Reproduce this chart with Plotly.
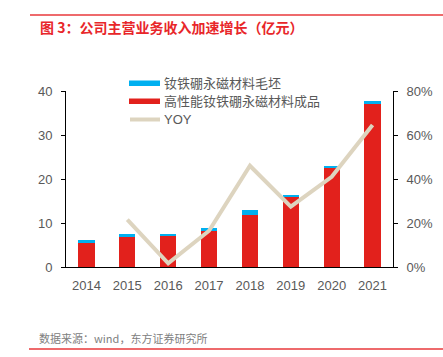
import plotly.graph_objects as go

years = ["2014", "2015", "2016", "2017", "2018", "2019", "2020", "2021"]
finished = [5.5, 6.85, 7.2, 8.2, 11.9, 16.1, 22.6, 37.0]      # 高性能钕铁硼永磁材料成品
blank = [0.6, 0.65, 0.4, 0.6, 1.0, 0.3, 0.4, 0.7]           # 钕铁硼永磁材料毛坯
yoy = [None, 0.215, 0.017, 0.165, 0.46, 0.274, 0.41, 0.645]

RED = "#E2211C"
BLUE = "#00B0F0"
BEIGE = "#DDD4BF"
GRAY = "#595959"
FONT = "Liberation Sans, Noto Sans CJK SC, sans-serif"

fig = go.Figure()
fig.add_trace(go.Bar(x=years, y=finished, name="高性能钕铁硼永磁材料成品",
                     marker=dict(color=RED, line=dict(width=0)), width=0.4, showlegend=False))
fig.add_trace(go.Bar(x=years, y=blank, name="钕铁硼永磁材料毛坯",
                     marker=dict(color=BLUE, line=dict(width=0)), width=0.4, showlegend=False))
fig.add_trace(go.Scatter(x=years, y=yoy, name="YOY", yaxis="y2", mode="lines",
                         line=dict(color=BEIGE, width=4), showlegend=False))

W, H = 443, 357
L, R, T, B = 66, 50, 91, 90
pw, ph = W - L - R, H - T - B

def px(x):
    return (x - L) / pw

def py(y):
    return (H - B - y) / ph

shapes = [
    dict(type="line", xref="paper", yref="paper", x0=px(30), x1=px(443), y0=py(15), y1=py(15),
         line=dict(color="#E8383B", width=1.5)),
    dict(type="line", xref="paper", yref="paper", x0=px(29), x1=px(443), y0=py(349), y1=py(349),
         line=dict(color="#E8383B", width=1.5)),
    dict(type="rect", xref="paper", yref="paper", x0=px(129), x1=px(160), y0=py(86), y1=py(80.5),
         fillcolor=BLUE, line=dict(width=0)),
    dict(type="rect", xref="paper", yref="paper", x0=px(129), x1=px(160), y0=py(104), y1=py(98.5),
         fillcolor=RED, line=dict(width=0)),
    dict(type="line", xref="paper", yref="paper", x0=px(130), x1=px(160), y0=py(119.5), y1=py(119.5),
         line=dict(color=BEIGE, width=4)),
]

legend_names = ["钕铁硼永磁材料毛坯", "高性能钕铁硼永磁材料成品", "YOY"]
legend_y = [83.5, 101.5, 119.5]
annotations = [
    dict(text=n, xref="paper", yref="paper", x=px(162), y=py(yy), xanchor="left", yanchor="middle",
         showarrow=False, font=dict(size=13, color=GRAY, family=FONT))
    for n, yy in zip(legend_names, legend_y)
]
annotations.append(dict(text="<b>图 3：公司主营业务收入加速增长（亿元）</b>", xref="paper", yref="paper",
                        x=px(38), y=py(27), xanchor="left", yanchor="middle", showarrow=False,
                        font=dict(size=14, color="#E8262A", family="Noto Sans CJK SC, sans-serif")))
annotations.append(dict(text="数据来源：wind，东方证券研究所", xref="paper", yref="paper",
                        x=px(37), y=py(338), xanchor="left", yanchor="middle", showarrow=False,
                        font=dict(size=11, color="#808080", family="Noto Sans CJK SC, sans-serif")))

fig.update_layout(
    width=W, height=H, margin=dict(l=L, r=R, t=T, b=B, autoexpand=False),
    paper_bgcolor="white", plot_bgcolor="white",
    barmode="stack", bargap=0.6,
    font=dict(family=FONT, size=13, color=GRAY),
    xaxis=dict(type="category", range=[-0.5, 7.5], showline=True, linecolor="#000000", linewidth=1,
               ticks="", showgrid=False, tickfont=dict(size=13, color=GRAY), ticklabelstandoff=6),
    yaxis=dict(range=[0, 40], dtick=10, showline=True, linecolor="#000000", linewidth=1,
               ticks="outside", ticklen=4, tickcolor="#000000", showgrid=False, zeroline=False,
               tickfont=dict(size=13, color=GRAY), ticklabelstandoff=6),
    yaxis2=dict(range=[0, 0.8], dtick=0.2, tickformat=".0%", overlaying="y", side="right",
                showline=True, linecolor="#000000", linewidth=1, ticks="outside", ticklen=4,
                tickcolor="#000000", showgrid=False, zeroline=False,
                tickfont=dict(size=13, color=GRAY), ticklabelstandoff=6),
    shapes=shapes, annotations=annotations,
)

fig.write_html("out.html", config={"displayModeBar": False},
               post_script="document.body.style.margin='0px';")
